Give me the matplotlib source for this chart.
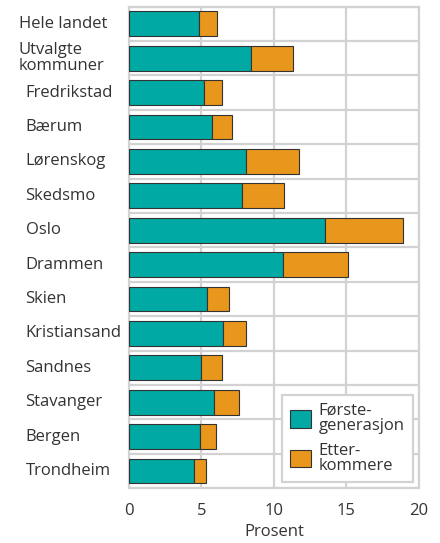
import numpy as np
import matplotlib
matplotlib.use("Agg")
import matplotlib.pyplot as plt
from matplotlib.transforms import blended_transform_factory

plt.rcParams["font.family"] = ["Open Sans", "DejaVu Sans"]
plt.rcParams["text.color"] = "#333333"

# data (prosent)
kommuner = ["Hele landet", "Utvalgte\nkommuner", "Fredrikstad", "Bærum", "Lørenskog",
            "Skedsmo", "Oslo", "Drammen", "Skien", "Kristiansand", "Sandnes",
            "Stavanger", "Bergen", "Trondheim"]
forste_gen = [4.8, 8.4, 5.2, 5.7, 8.1, 7.8, 13.5, 10.6, 5.4, 6.5, 5.0, 5.9, 4.9, 4.5]
etterkommere = [1.3, 2.9, 1.2, 1.4, 3.6, 2.9, 5.4, 4.5, 1.5, 1.6, 1.4, 1.7, 1.1, 0.8]
x_ticks = [0, 5, 10, 15, 20]

TEAL = "#00a9a3"
ORANGE = "#e8961c"
GRID = "#d2d2d2"
EDGE = "#333333"

fig = plt.figure(figsize=(4.4, 5.43), dpi=100)
ax = fig.add_axes([0.293, 0.101, 0.659, 0.887])

y = np.arange(len(kommuner))
ax.barh(y, forste_gen, height=0.72, color=TEAL, edgecolor=EDGE, linewidth=0.8,
        label="Første-\ngenerasjon", zorder=3)
ax.barh(y, etterkommere, left=forste_gen, height=0.72, color=ORANGE, edgecolor=EDGE,
        linewidth=0.8, label="Etter-\nkommere", zorder=3)

ax.set_xlim(0, 20)
ax.set_ylim(len(kommuner) - 0.5, -0.5)
ax.set_xticks(x_ticks)
ax.set_xticklabels([str(t) for t in x_ticks], fontsize=12, color="#333333")
ax.set_yticks(y)
ax.set_yticklabels([])
ax.set_yticks(np.arange(len(kommuner) + 1) - 0.5, minor=True)
ax.tick_params(axis="both", which="both", length=0)
ax.tick_params(axis="x", pad=11)

ax.grid(axis="x", which="major", color=GRID, linewidth=1.6, zorder=0)
ax.grid(axis="y", which="minor", color=GRID, linewidth=1.6, zorder=0)
for s in ax.spines.values():
    s.set_color(GRID)
    s.set_linewidth(1.6)

ax.set_xlabel("Prosent", fontsize=12, color="#333333", labelpad=3)

# category labels, left aligned (first two slightly further out)
trans = blended_transform_factory(fig.transFigure, ax.transData)
for i, name in enumerate(kommuner):
    xpos = 0.043 if i < 2 else 0.058
    ax.text(xpos, i, name, transform=trans, ha="left", va="center",
            fontsize=12, color="#333333", linespacing=0.95)

leg = ax.legend(loc="lower right", fontsize=12, frameon=True, fancybox=False,
                edgecolor=GRID, framealpha=1, borderaxespad=0.35,
                handlelength=1.25, handleheight=1.25, handletextpad=0.45,
                labelspacing=0.5, borderpad=0.5)
leg.get_frame().set_linewidth(1.6)
for t in leg.get_texts():
    t.set_linespacing(0.95)
    t.set_color("#333333")

fig.savefig("out.png", dpi=100)
